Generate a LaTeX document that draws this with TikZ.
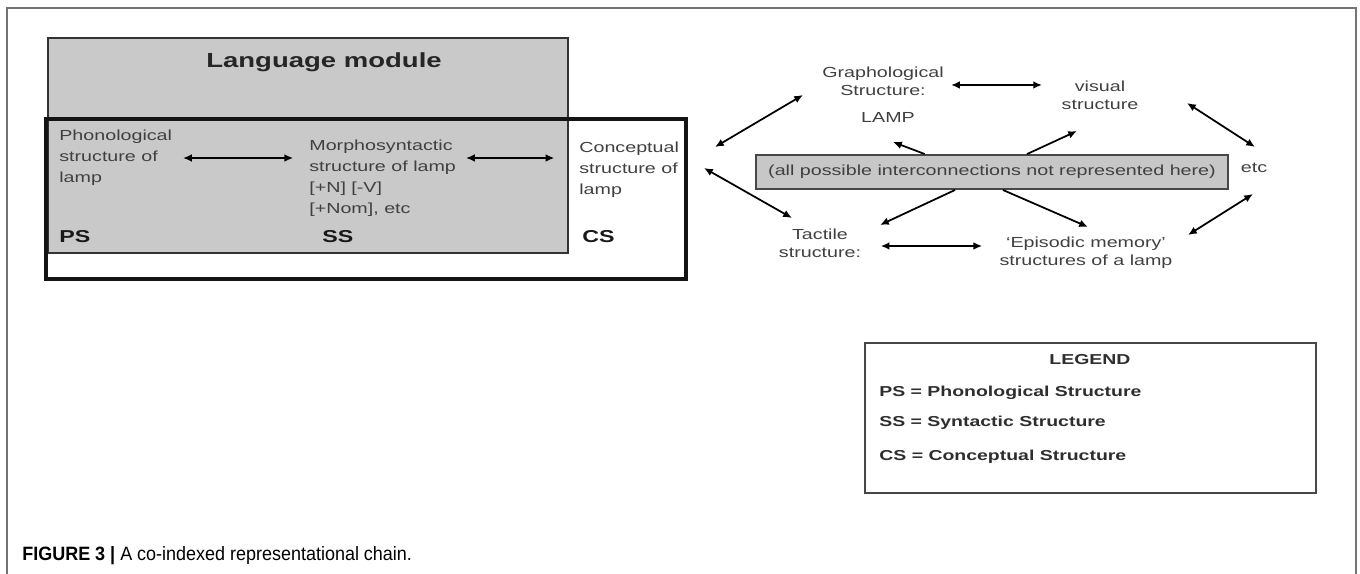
\documentclass[tikz,border=0pt]{standalone}
\usepackage{fontspec}
\setmainfont[FakeStretch=1.35]{Liberation Sans}
\newfontfamily\capfont[FakeStretch=0.93]{Liberation Sans}
\usetikzlibrary{arrows.meta,fit,calc}

\begin{document}
\begin{tikzpicture}[x=0.02cm, y=-0.02cm,
        body/.style={font=\fontsize{8.3}{11.9}\selectfont, text=black!75, align=left, inner sep=0pt, anchor=west},
        side/.style={font=\fontsize{8.3}{10.3}\selectfont, text=black!75, align=center, inner sep=0pt},
        tag/.style={font=\fontsize{9.8}{12}\selectfont\bfseries, text=black!90, inner sep=0pt, anchor=west},
        legitem/.style={font=\fontsize{8.2}{10}\selectfont\bfseries, text=black!82, inner sep=0pt, anchor=west},
        modbox/.style={draw=black!80, line width=1pt, fill=black!21, inner sep=0pt},
        chainbox/.style={draw=black!92, line width=1.9pt, inner sep=0pt},
        notebox/.style={draw=black!72, line width=1.1pt, fill=black!22, inner sep=0pt, minimum width=9.44cm, minimum height=0.68cm},
        legbox/.style={draw=black!72, line width=1.2pt, inner sep=0pt},
        link/.style={{Latex[length=5pt,width=4.4pt]}-{Latex[length=5pt,width=4.4pt]}, line width=1pt},
        oneway/.style={-{Latex[length=5pt,width=4.4pt]}, line width=1pt}
    ]
    \useasboundingbox (0,0) rectangle (1360,574);

    % Moldura
    \draw[black!55, line width=0.8pt] (7,574) -- (7,8) -- (1356,8) -- (1356,574);

    % Language module and chain
    \node[modbox, fit={(48,38) (568,253)}] (langmod) {};
    \node[chainbox, fit={(46,119) (686,279)}] (chain) {};
    \node[font=\fontsize{11.6}{14}\selectfont\bfseries, text=black!85] (lmtitle) at (324,62) {Language module};

    \node[body] (ph) at (59,158) {Phonological\\structure of\\lamp};
    \node[body] (ms) at (309,178) {Morphosyntactic\\structure of lamp\\{[+N] [-V]}\\{[+Nom], etc}};
    \node[body] (cs) at (579,169.5) {Conceptual\\structure of\\lamp};

    \node[tag] (pstag) at (59,237) {PS};
    \node[tag] (sstag) at (322,237) {SS};
    \node[tag] (cstag) at (582,237) {CS};

    \coordinate (lrow) at (0,158);
    \draw[link, shorten <=6pt, shorten >=9pt] (ph.east |- lrow) -- (ms.west |- lrow);
    \draw[link, shorten <=5.5pt, shorten >=14pt] (ms.east |- lrow) -- (cs.west |- lrow);

    % Other structures
    \node[side] (gs) at (883,81) {Graphological\\Structure:};
    \node[side] (lamp) at (888,117) {LAMP};
    \node[side] (vis) at (1100,95) {visual\\structure};
    \node[side] (tac) at (820,243.5) {Tactile\\structure:};
    \node[side] (epi) at (1086,253) {`Episodic memory'\\structures of a lamp};
    \node[side] (etc) at (1254,168) {etc};
    \node[notebox, font=\fontsize{8.3}{10}\selectfont, text=black!75] (ib) at (992,172) {(all possible interconnections not represented here)};

    \coordinate (grow) at (0,85);
    \coordinate (brow) at (0,246);
    \draw[link, shorten <=4pt, shorten >=11pt] (gs.east |- grow) -- (vis.west |- grow);
    \draw[link, shorten <=11pt, shorten >=9.7pt] (tac.east |- brow) -- (epi.west |- brow);

    % Setas diagonais
    \coordinate (csA) at (715,147);
    \coordinate (gsA) at (803,95);
    \coordinate (csB) at (704,168);
    \coordinate (tacA) at (792,218);
    \coordinate (visA) at (1187,103);
    \coordinate (etcA) at (1255,147);
    \coordinate (etcB) at (1253,194);
    \coordinate (epiA) at (1188,235);
    \draw[link] (csA) -- (gsA);
    \draw[link] (csB) -- (tacA);
    \draw[link] (visA) -- (etcA);
    \draw[link] (etcB) -- (epiA);

    \coordinate (lampH) at (893,142);
    \coordinate (visH) at (1077,131);
    \coordinate (tacH) at (880,225);
    \coordinate (epiH) at (1088,227);
    \draw[oneway] ($(ib.north west)!0.358!(ib.north east)$) -- (lampH);
    \draw[oneway] ($(ib.north west)!0.574!(ib.north east)$) -- (visH);
    \draw[oneway] ($(ib.south west)!0.422!(ib.south east)$) -- (tacH);
    \draw[oneway] ($(ib.south west)!0.523!(ib.south east)$) -- (epiH);

    % Legenda
    \node[legbox, fit={(865,343) (1316,493)}] (legend) {};
    \node[legitem, anchor=center] (leghead) at (1090,360) {LEGEND};
    \node[legitem] (legps) at (879,393) {PS = Phonological Structure};
    \node[legitem] (legss) at (879,423) {SS = Syntactic Structure};
    \node[legitem] (legcs) at (879,457) {CS = Conceptual Structure};

    % Caption
    \node[anchor=west, inner sep=0pt, font=\capfont\fontsize{11}{13}\selectfont] (caption) at (22,556) {\textbf{FIGURE 3 |} A co-indexed representational chain.};

\end{tikzpicture}
\end{document}
